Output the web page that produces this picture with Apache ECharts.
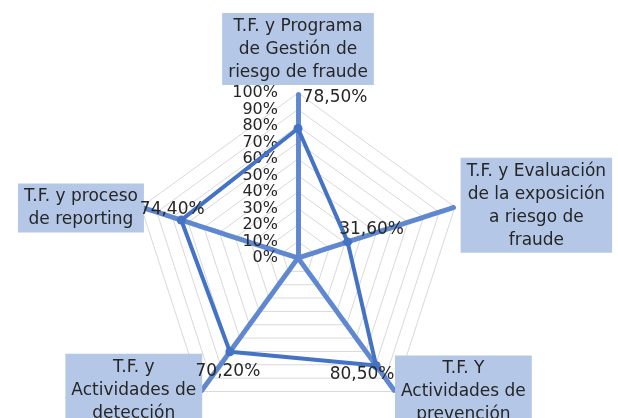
<!DOCTYPE html>
<html>
<head>
<meta charset="utf-8">
<script src="https://cdn.jsdelivr.net/npm/echarts@6/dist/echarts.min.js"></script>
<style>
html,body{margin:0;padding:0;background:#fff;}
#main{width:618px;height:418px;}
</style>
</head>
<body>
<div id="main"></div>
<script>
// indicadores en sentido antihorario, empezando arriba
var indicatorNames = [
	"T.F. y Programa\nde Gestión de\nriesgo de fraude",
	"T.F. y proceso\nde reporting",
	"T.F. y\nActividades de\ndetección",
	"T.F. Y\nActividades de\nprevención",
	"T.F. y Evaluación\nde la exposición\na riesgo de\nfraude"
];
var values = [78.5, 74.4, 70.2, 80.5, 31.6];
var maxValue = 100;
var splitCount = 10;

var fontName = "DejaVu Sans";
var blue = "#4472C4";

function pct(v){
	return v.toFixed(2).replace(".", ",") + "%";
}

var chart = echarts.init(document.getElementById("main"));

// gap del nombre de cada eje
var nameGaps = [6, -3, -2, 0, 6];

var indicators = [];
for (var i = 0; i < indicatorNames.length; i++) {
	var ind = {name: indicatorNames[i], max: maxValue, min: 0, nameGap: nameGaps[i]};
	if (i == 0) {
		ind.axisLabel = {show: true};//solo el eje de arriba lleva etiquetas
	}
	indicators.push(ind);
}

// offsets de cada etiqueta de dato (como los pone excel)
var labelOffsets = [[37, -31], [-9, -10], [-2, 20], [-14, 9], [24, -12]];

var series = [{
	type: "radar",
	z: 3,
	symbol: "circle",
	symbolSize: 9,
	itemStyle: {color: blue},
	lineStyle: {color: blue, width: 4},
	data: [{value: values}]
}];
for (var k = 0; k < values.length; k++) {
	(function(k){
		series.push({
			type: "radar",
			silent: true,
			z: 4,
			symbol: "circle",
			symbolSize: 1,
			lineStyle: {color: "rgba(0,0,0,0)", width: 0},
			itemStyle: {color: "rgba(0,0,0,0)", borderWidth: 0},
			label: {
				show: true,
				position: "inside",
				offset: labelOffsets[k],
				color: "#262626",
				fontFamily: fontName,
				fontSize: 17,
				formatter: function(p){
					return p.dimensionIndex === k ? pct(p.value) : "";
				}
			},
			data: [{value: values}]
		});
	})(k);
}

var option = {
	animation: false,
	backgroundColor: "#fff",
	radar: {
		center: [298, 258],
		radius: 165,
		startAngle: 90,
		splitNumber: splitCount,
		shape: "polygon",
		axisName: {
			color: "#262626",
			fontFamily: fontName,
			fontSize: 17,
			lineHeight: 23,
			backgroundColor: "#B4C7E7",
			padding: [2, 6, 1, 6],
			formatter: function(name){
				return name.split("\n").map(function(l){ return "{c|" + l + "}"; }).join("\n");
			},
			rich: {
				c: {align: "center", color: "#262626", fontFamily: fontName, fontSize: 17, lineHeight: 23}
			}
		},
		axisNameGap: 6,
		axisLine: {
			lineStyle: {color: "#5F88D0", width: 5, type: [1, 1.5]}
		},
		axisTick: {show: false},
		axisLabel: {
			show: false,
			showMinLabel: true,
			showMaxLabel: true,
			hideOverlap: false,
			interval: 0,
			color: "#262626",
			fontFamily: fontName,
			fontSize: 16,
			margin: 20,
			formatter: function(v){ return v + "%"; }
		},
		splitLine: {lineStyle: {color: "#D9D9D9", width: 1}},
		splitArea: {show: false},
		indicator: indicators
	},
	series: series
};
chart.setOption(option);
</script>
</body>
</html>
